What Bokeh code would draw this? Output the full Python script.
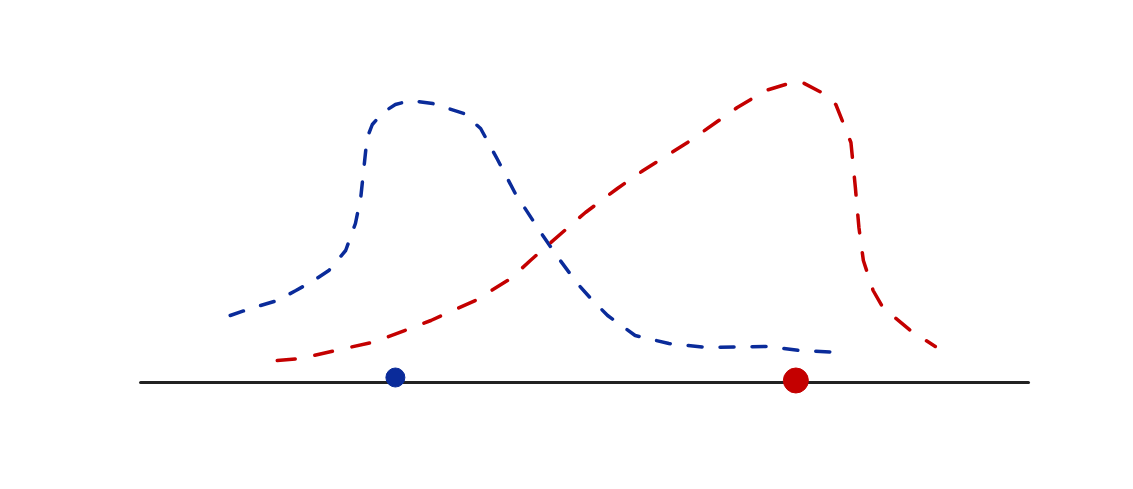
from bokeh.plotting import figure
from bokeh.models import Range1d
from bokeh.embed import file_html
from bokeh.resources import INLINE

# Blue curve
blue_x = [1.01, 1.24, 1.54, 1.75, 1.95, 2.12, 2.31, 2.42, 2.48, 2.51, 2.55, 2.61, 2.73, 2.87, 3.04,
          3.29, 3.64, 3.83, 4.02, 4.22, 4.53, 4.71, 4.91, 5.07, 5.26, 5.57, 5.95, 6.39, 7.06, 7.43, 7.91]
blue_y = [0.67, 0.74, 0.82, 0.92, 1.02, 1.12, 1.32, 1.59, 1.85, 2.10, 2.44, 2.58, 2.70, 2.78, 2.82,
          2.79, 2.69, 2.54, 2.23, 1.89, 1.47, 1.24, 1.00, 0.84, 0.67, 0.47, 0.39, 0.35, 0.36, 0.32, 0.30]

# Red curve
red_x = [1.54, 1.80, 2.25, 2.65, 3.27, 3.77, 4.17, 4.39, 4.62, 5.01, 5.37, 5.66, 6.16, 6.72, 7.04,
         7.41, 7.67, 7.83, 8.00, 8.05, 8.09, 8.14, 8.25, 8.36, 8.67, 8.95]
red_y = [0.22, 0.24, 0.33, 0.41, 0.62, 0.82, 1.04, 1.22, 1.40, 1.70, 1.94, 2.12, 2.40, 2.75, 2.92,
         3.02, 2.90, 2.78, 2.40, 1.95, 1.55, 1.22, 0.92, 0.75, 0.52, 0.36]

# Baseline and markers on it
base_x = [0.0, 10.0]
base_y = [0.0, 0.0]
mark_x = [2.87, 7.38]
mark_y = [0.05, 0.02]
mark_colors = ["#0a2b9a", "#c40000"]
mark_sizes = [19, 25]

p = figure(width=1117, height=473, output_backend="svg", toolbar_location=None,
           x_range=Range1d(-1.577, 11.002), y_range=Range1d(-0.91, 3.82),
           min_border=0, outline_line_color=None)
p.axis.visible = False
p.grid.visible = False
p.background_fill_color = "white"
p.border_fill_color = "white"

p.line(base_x, base_y, line_color="#222222", line_width=3, line_cap="round")
p.line(blue_x, blue_y, line_color="#0a2b9a", line_width=3.5, line_dash="14 18", line_cap="round")
p.line(red_x, red_y, line_color="#c40000", line_width=3.5, line_dash="18 20", line_cap="round")
p.scatter(mark_x, mark_y, size=mark_sizes, fill_color=mark_colors, line_color=mark_colors)

open("out.html", "w").write(file_html(p, INLINE))
